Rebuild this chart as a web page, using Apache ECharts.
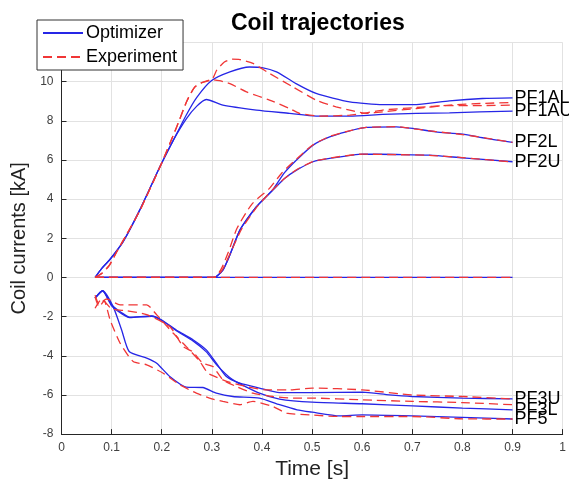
<!DOCTYPE html>
<html>
<head>
<meta charset="utf-8">
<script src="https://cdn.jsdelivr.net/npm/echarts@6/dist/echarts.min.js"></script>
<style>
  html, body { margin: 0; padding: 0; background: #fff; }
  #chart { width: 569px; height: 485px; }
</style>
</head>
<body>
<div id="chart"></div>
<script>
// Coil current trajectories: [time s, current kA]
const pf1alOpt = [[0.067,0],[0.08,0.45],[0.097,0.93],[0.123,1.83],[0.156,3.44],[0.198,5.74],[0.223,7.0],[0.249,8.3],[0.27,9.2],[0.299,10.05],[0.336,10.5],[0.375,10.75],[0.4,10.72],[0.429,10.5],[0.468,9.9],[0.508,9.4],[0.575,8.97],[0.641,8.83],[0.708,8.83],[0.774,9.02],[0.84,9.14],[0.9,9.17]];
const pf1auOpt = [[0.067,0],[0.08,0.45],[0.097,0.93],[0.123,1.83],[0.156,3.44],[0.198,5.74],[0.223,7.0],[0.249,8.1],[0.27,8.75],[0.289,9.09],[0.322,8.8],[0.389,8.55],[0.455,8.38],[0.508,8.24],[0.575,8.24],[0.641,8.33],[0.708,8.38],[0.774,8.41],[0.9,8.5]];
const pf2lOpt = [[0.067,0],[0.304,0],[0.322,0.38],[0.336,1.15],[0.356,2.42],[0.389,3.61],[0.422,4.5],[0.445,5.35],[0.469,6.0],[0.502,6.76],[0.535,7.18],[0.568,7.44],[0.608,7.66],[0.668,7.69],[0.701,7.61],[0.747,7.44],[0.8,7.32],[0.847,7.1],[0.9,6.9]];
const pf2uOpt = [[0.067,0],[0.304,0],[0.322,0.38],[0.336,1.15],[0.356,2.42],[0.389,3.61],[0.422,4.46],[0.445,5.05],[0.469,5.48],[0.502,5.91],[0.535,6.08],[0.601,6.3],[0.668,6.28],[0.734,6.25],[0.8,6.11],[0.9,5.91]];
const zeroOpt = [[0.067,0],[0.9,0]];
const pf3uOpt = [[0.067,-1.05],[0.082,-0.68],[0.1,-1.4],[0.12,-1.8],[0.136,-2.03],[0.18,-1.96],[0.2,-2.17],[0.229,-2.68],[0.263,-3.19],[0.289,-3.7],[0.309,-4.38],[0.329,-5.06],[0.356,-5.4],[0.395,-5.65],[0.435,-5.88],[0.5,-5.88],[0.6,-5.86],[0.654,-6.0],[0.7,-6.08],[0.8,-6.16],[0.9,-6.2]];
const pf3lOpt = [[0.067,-1.05],[0.082,-0.68],[0.1,-1.45],[0.12,-1.85],[0.136,-2.05],[0.18,-1.98],[0.2,-2.2],[0.229,-2.72],[0.263,-3.25],[0.289,-3.8],[0.309,-4.45],[0.342,-5.23],[0.395,-5.91],[0.435,-6.21],[0.5,-6.37],[0.6,-6.45],[0.7,-6.56],[0.8,-6.67],[0.9,-6.76]];
const pf5Opt = [[0.067,-1.05],[0.082,-0.68],[0.103,-1.49],[0.12,-2.68],[0.135,-3.78],[0.17,-4.12],[0.19,-4.38],[0.216,-5.06],[0.249,-5.6],[0.282,-5.62],[0.309,-5.91],[0.342,-6.08],[0.395,-6.16],[0.435,-6.5],[0.47,-6.76],[0.5,-6.88],[0.555,-7.07],[0.6,-7.02],[0.7,-7.07],[0.8,-7.15],[0.9,-7.23]];

const pf1alExp = [[0.067,0],[0.08,0.2],[0.095,0.6],[0.11,1.3],[0.13,2.2],[0.156,3.4],[0.2,5.85],[0.23,7.7],[0.25,9.0],[0.265,9.7],[0.28,9.95],[0.3,10.1],[0.31,10.6],[0.325,11.0],[0.34,11.15],[0.356,11.13],[0.382,10.93],[0.415,10.42],[0.462,9.73],[0.508,9.06],[0.548,8.71],[0.575,8.55],[0.608,8.38],[0.641,8.46],[0.708,8.63],[0.774,8.8],[0.84,8.89],[0.9,8.94]];
const pf1auExp = [[0.067,0],[0.08,0.2],[0.095,0.6],[0.11,1.3],[0.13,2.2],[0.156,3.4],[0.2,5.85],[0.23,7.7],[0.25,9.0],[0.265,9.7],[0.28,9.95],[0.3,10.1],[0.315,10.05],[0.336,9.9],[0.369,9.48],[0.415,9.06],[0.455,8.63],[0.475,8.38],[0.515,8.24],[0.575,8.29],[0.608,8.41],[0.641,8.55],[0.708,8.68],[0.774,8.78],[0.84,8.78],[0.9,8.8]];
const pf2lExp = [[0.067,0],[0.304,0],[0.318,0.4],[0.333,1.3],[0.35,2.5],[0.38,3.75],[0.415,4.55],[0.44,5.35],[0.469,6.05],[0.502,6.78],[0.535,7.2],[0.568,7.45],[0.608,7.66],[0.668,7.7],[0.701,7.6],[0.747,7.45],[0.8,7.3],[0.847,7.12],[0.9,6.9]];
const pf2uExp = [[0.067,0],[0.304,0],[0.32,0.35],[0.336,1.2],[0.36,2.5],[0.39,3.6],[0.42,4.45],[0.445,5.05],[0.469,5.5],[0.502,5.92],[0.535,6.1],[0.601,6.3],[0.668,6.27],[0.734,6.24],[0.8,6.12],[0.9,5.9]];
const zeroExp = [[0.067,0],[0.9,0]];
const pf3uExp = [[0.067,-0.9],[0.075,-1.35],[0.09,-1.1],[0.117,-1.4],[0.17,-1.4],[0.19,-1.91],[0.223,-2.85],[0.249,-3.53],[0.276,-4.29],[0.292,-4.89],[0.31,-5.1],[0.335,-5.35],[0.369,-5.57],[0.409,-5.74],[0.455,-5.74],[0.5,-5.65],[0.6,-5.74],[0.7,-6.0],[0.8,-6.08],[0.9,-6.21]];
const pf3lExp = [[0.067,-1.57],[0.08,-1.1],[0.1,-1.6],[0.13,-1.7],[0.17,-1.9],[0.216,-2.51],[0.243,-3.53],[0.262,-3.8],[0.282,-4.38],[0.302,-4.55],[0.322,-5.23],[0.349,-5.57],[0.382,-5.91],[0.422,-6.08],[0.462,-6.16],[0.5,-6.16],[0.6,-6.25],[0.7,-6.33],[0.8,-6.39],[0.9,-6.5]];
const pf5Exp = [[0.067,-1.0],[0.075,-1.5],[0.085,-1.2],[0.097,-2.17],[0.117,-3.36],[0.143,-4.29],[0.17,-4.46],[0.203,-4.89],[0.236,-5.48],[0.269,-5.91],[0.3,-6.2],[0.322,-6.33],[0.356,-6.5],[0.382,-6.33],[0.422,-6.59],[0.449,-6.93],[0.495,-7.02],[0.555,-7.1],[0.6,-7.1],[0.7,-7.1],[0.8,-7.22],[0.9,-7.23]];

const coilNames = ['PF1AL', 'PF1AU', 'PF2L', 'PF2U', '', 'PF3U', 'PF3L', 'PF5'];
const optimizerRuns = [pf1alOpt, pf1auOpt, pf2lOpt, pf2uOpt, zeroOpt, pf3uOpt, pf3lOpt, pf5Opt];
const experimentRuns = [pf1alExp, pf1auExp, pf2lExp, pf2uExp, zeroExp, pf3uExp, pf3lExp, pf5Exp];

const FONT = '"Liberation Sans", Arial, Helvetica, sans-serif';
const BLUE = '#2626e6';
const RED = '#f03636';

const series = [];
optimizerRuns.forEach((d, i) => {
  series.push({
    name: 'Optimizer',
    type: 'line',
    data: d,
    symbol: 'none',
    smooth: 0.2,
    lineStyle: { color: BLUE, width: 1.3 },
    itemStyle: { color: BLUE },
    z: 2,
    endLabel: coilNames[i] ? {
      show: true,
      formatter: coilNames[i],
      color: '#000',
      fontSize: 18,
      fontFamily: FONT,
      distance: 2
    } : { show: false }
  });
});
experimentRuns.forEach((d) => {
  series.push({
    name: 'Experiment',
    type: 'line',
    data: d,
    symbol: 'none',
    smooth: 0.2,
    lineStyle: { color: RED, width: 1.3, type: [9, 5] },
    itemStyle: { color: RED },
    z: 3
  });
});

const chart = echarts.init(document.getElementById('chart'), null, { renderer: 'canvas' });
chart.setOption({
  animation: false,
  backgroundColor: '#fff',
  title: {
    text: 'Coil trajectories',
    left: 226,
    top: 7,
    textStyle: { fontFamily: FONT, fontSize: 23, fontWeight: 'bold', color: '#000' }
  },
  legend: {
    data: ['Optimizer', 'Experiment'],
    orient: 'vertical',
    left: 37,
    top: 20,
    padding: [4, 6, 4, 5],
    itemGap: 6,
    itemWidth: 40,
    itemHeight: 14,
    backgroundColor: '#fff',
    borderColor: '#333',
    borderWidth: 1,
    borderRadius: 0,
    itemStyle: { opacity: 0 },
    textStyle: { fontFamily: FONT, fontSize: 18, color: '#000', padding: [0, 0, 0, -2] }
  },
  grid: { left: 61.5, right: 5.5, top: 42.5, bottom: 50.5, containLabel: false },
  xAxis: {
    type: 'value',
    min: 0,
    max: 1,
    interval: 0.1,
    name: 'Time [s]',
    nameLocation: 'middle',
    nameGap: 23,
    nameTextStyle: { fontFamily: FONT, fontSize: 21, color: '#222' },
    axisLine: { show: true, onZero: false, lineStyle: { color: '#262626', width: 1 } },
    axisTick: { show: true, inside: true, length: 5, lineStyle: { color: '#262626' } },
    axisLabel: { fontFamily: FONT, fontSize: 12, color: '#404040', margin: 8 },
    splitLine: { show: true, lineStyle: { color: '#e2e2e2', width: 1 } }
  },
  yAxis: {
    type: 'value',
    min: -8,
    max: 12,
    interval: 2,
    name: 'Coil currents [kA]',
    nameLocation: 'middle',
    nameGap: 27,
    nameTextStyle: { fontFamily: FONT, fontSize: 20, color: '#222' },
    axisLine: { show: true, onZero: false, lineStyle: { color: '#262626', width: 1 } },
    axisTick: { show: true, inside: true, length: 5, lineStyle: { color: '#262626' } },
    axisLabel: { fontFamily: FONT, fontSize: 12, color: '#404040', margin: 8 },
    splitLine: { show: true, lineStyle: { color: '#e2e2e2', width: 1 } }
  },
  series: series
});
</script>
</body>
</html>
